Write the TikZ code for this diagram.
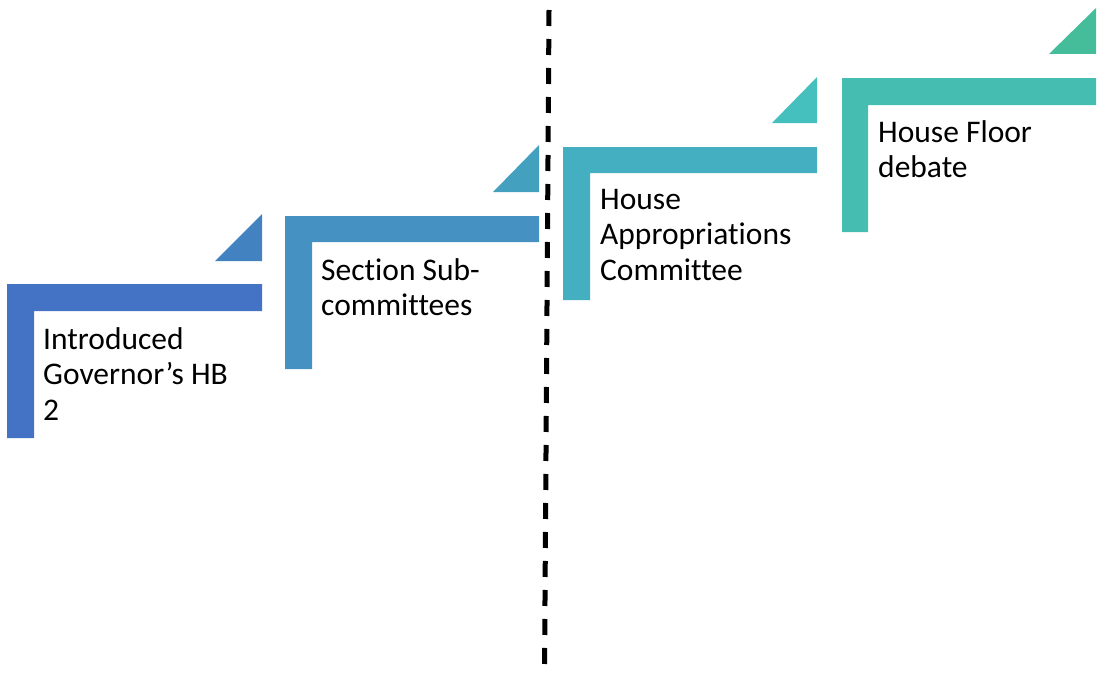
\documentclass[tikz,border=0pt]{standalone}
\usepackage{fontspec}
\setmainfont[Ligatures=NoCommon]{Carlito}
\usepackage{xcolor}
\usetikzlibrary{positioning, calc}

\definecolor{barA}{HTML}{4472C4}
\definecolor{triA}{HTML}{4382C1}
\definecolor{barB}{HTML}{4591C2}
\definecolor{triB}{HTML}{43A0BF}
\definecolor{barC}{HTML}{45AFC2}
\definecolor{triC}{HTML}{45C0BF}
\definecolor{barD}{HTML}{45BDB0}
\definecolor{triD}{HTML}{45BD9A}

\begin{document}
\begin{tikzpicture}[x=1pt, y=-1pt,
  steptext/.style={anchor=north west, align=left, inner sep=0pt,
    font=\fontsize{31.5}{35.5}\selectfont}]
\useasboundingbox (0,0) rectangle (1102,677);

% step 1
\fill[barA] (7,284) -- (262,284) -- (262,311) -- (34,311) -- (34,438) -- (7,438) -- cycle;
\fill[triA] (215,261) -- (262,261) -- (262,214) -- cycle;
\node (introduced) [steptext] at (43,327) {Introduced\\Governor’s HB\\2};

% step 2
\fill[barB] (285,216) -- (539,216) -- (539,242) -- (312,242) -- (312,369) -- (285,369) -- cycle;
\fill[triB] (493,192) -- (539,192) -- (539,145) -- cycle;
\node (subcommittees) [steptext] at (321,258) {Section Sub-\\committees};

% step 3
\fill[barC] (563,147) -- (817,147) -- (817,173) -- (590,173) -- (590,300) -- (563,300) -- cycle;
\fill[triC] (772,123) -- (817,123) -- (817,77) -- cycle;
\node (appropriations) [steptext] at (600,189) {House\\Appropriations\\Committee};

% step 4
\fill[barD] (842,78) -- (1096,78) -- (1096,105) -- (868,105) -- (868,232) -- (842,232) -- cycle;
\fill[triD] (1049,54) -- (1096,54) -- (1096,8) -- cycle;
\node (floor) [steptext] at (878,120) {House Floor\\debate};

% divider
\coordinate (divtop) at (549,10);
\coordinate (divbot) at (544.5,673);
\draw[black, line width=5pt, dash pattern=on 16pt off 13pt] (divtop) -- (divbot);
\end{tikzpicture}
\end{document}
